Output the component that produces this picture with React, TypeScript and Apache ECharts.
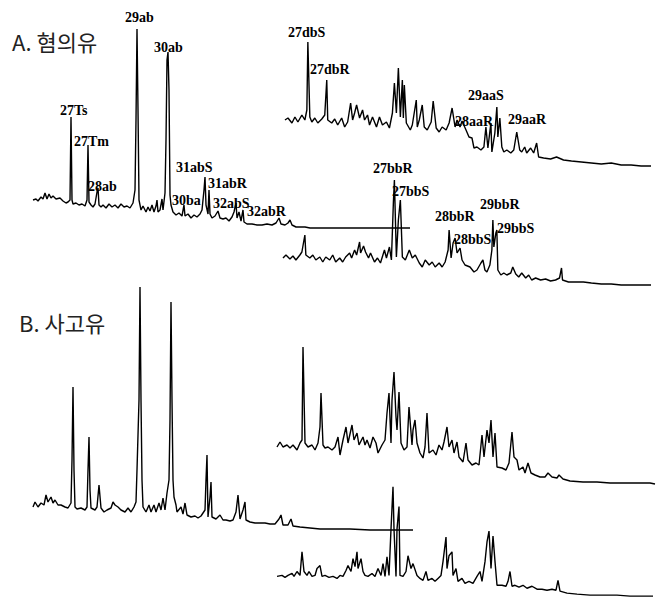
import React, { useEffect, useRef } from "react";
import * as echarts from "echarts";

// Each trace: [scan, abundance]
const mainA: number[][] = [
  [3,30],[6,31],[8,29],[11,33],[13,31],[15,37],[17,31],[19,36],[21,32],[23,34],[26,31],[30,32],[33,29],[36,27],[38,28],[40,30],[41,113],[42,30],[43,26],[46,27],[49,25],[52,26],[55,24],[57,30],[58,85],[59,28],[61,25],[63,23],[65,26],[67,38],[68,42],[69,25],[71,23],[73,25],[76,22],[79,26],[82,23],[85,25],[88,22],[91,26],[94,23],[97,24],[100,22],[103,27],[105,40],[106,110],[107,201],[108,120],[109,30],[111,20],[113,24],[116,18],[118,23],[120,19],[122,25],[124,18],[126,24],[127,30],[128,18],[130,20],[132,31],[133,20],[135,37],[136,90],[137,170],[138,178],[139,140],[140,35],[141,25],[143,18],[146,15],[149,17],[152,14],[154,25],[155,14],[158,16],[161,12],[164,15],[167,13],[170,16],[172,20],[174,40],[175,53],[176,25],[178,16],[179,40],[180,16],[182,12],[185,14],[188,19],[190,12],[193,11],[196,12],[199,9],[202,13],[204,18],[206,27],[207,12],[209,18],[211,9],[213,20],[214,8],[217,6],[222,6],[227,5],[232,5],[237,6],[242,5],[246,7],[249,12],[251,6],[255,5],[258,7],[260,10],[262,5],[266,3],[270,3],[275,3],[280,2],[300,2],[320,2],[340,2],[360,2],[380,2]
];

const insetA217: number[][] = [
  [5,50],[8,52],[12,47],[15,53],[18,48],[22,55],[25,50],[27,60],[28,128],[30,53],[32,48],[35,52],[38,47],[42,51],[45,55],[47,90],[48,50],[52,47],[55,51],[58,45],[62,52],[65,43],[68,48],[71,67],[73,50],[75,57],[77,65],[80,52],[83,60],[85,50],[88,55],[90,45],[93,53],[97,43],[100,53],[103,45],[107,48],[110,42],[113,57],[115,87],[117,57],[119,102],[121,53],[123,90],[124,52],[125,85],[127,47],[131,40],[133,45],[137,70],[138,43],[140,50],[143,65],[145,43],[148,40],[152,48],[154,69],[157,42],[160,38],[163,43],[167,40],[170,47],[173,62],[176,43],[178,50],[181,43],[183,49],[187,40],[190,33],[193,32],[195,22],[198,23],[202,20],[205,23],[207,43],[209,22],[212,47],[213,18],[216,37],[218,63],[219,33],[221,52],[223,23],[225,18],[228,20],[232,17],[235,20],[238,38],[241,20],[243,18],[246,23],[248,17],[252,22],[255,17],[258,27],[260,13],[265,12],[272,11],[278,13],[285,10],[293,9],[303,8],[313,7],[323,6],[333,7],[343,5],[353,5],[363,4],[373,4]
];

const insetA218: number[][] = [
  [3,32],[6,35],[10,31],[13,34],[16,30],[20,35],[22,38],[25,55],[26,35],[30,32],[33,35],[36,30],[40,33],[43,28],[46,33],[50,30],[53,35],[56,28],[60,32],[63,28],[66,33],[70,37],[72,32],[75,40],[77,35],[80,48],[81,37],[84,44],[86,38],[89,32],[91,37],[95,28],[98,32],[101,27],[105,40],[107,32],[110,43],[112,30],[114,88],[115,110],[117,33],[119,70],[121,90],[123,33],[126,30],[130,40],[133,32],[136,35],[140,27],[143,23],[146,30],[150,25],[153,28],[156,23],[160,27],[163,23],[166,28],[169,40],[170,60],[172,32],[174,47],[176,52],[178,37],[181,42],[183,30],[186,25],[191,23],[195,18],[198,20],[202,27],[204,30],[206,20],[208,18],[211,25],[213,40],[214,70],[215,43],[217,57],[218,60],[219,20],[222,15],[225,17],[228,15],[232,17],[234,23],[237,16],[240,13],[243,17],[247,12],[250,15],[253,10],[257,12],[262,10],[267,11],[272,9],[277,10],[281,12],[283,22],[284,10],[290,8],[297,8],[305,8],[313,7],[323,6],[333,6],[343,5],[353,5],[363,5],[373,5]
];

const mainB: number[][] = [
  [3,28],[5,33],[8,28],[11,32],[14,30],[16,40],[18,33],[21,38],[23,32],[25,35],[28,30],[31,30],[35,28],[38,27],[41,32],[42,75],[43,148],[44,65],[45,28],[47,26],[51,27],[55,25],[57,28],[58,65],[59,98],[60,45],[61,27],[65,25],[67,28],[69,50],[71,27],[74,23],[77,25],[81,27],[83,33],[85,30],[88,28],[91,25],[95,23],[98,27],[101,23],[104,28],[106,33],[107,65],[109,135],[110,248],[111,135],[112,55],[113,28],[116,23],[119,30],[121,23],[124,30],[126,23],[129,32],[131,25],[133,37],[135,25],[137,42],[139,55],[140,115],[141,233],[142,135],[143,55],[144,38],[146,30],[147,23],[151,28],[153,21],[155,32],[157,20],[161,18],[165,19],[168,17],[171,19],[175,25],[176,55],[177,80],[178,18],[180,38],[181,53],[182,18],[186,16],[190,20],[193,15],[196,15],[200,14],[203,15],[206,23],[208,40],[210,16],[213,25],[215,33],[216,15],[220,13],[225,12],[230,12],[235,12],[240,11],[245,11],[249,16],[251,20],[253,10],[258,10],[261,16],[263,9],[270,8],[280,7],[290,6],[300,6],[320,6],[340,5],[360,5],[383,5]
];

const insetB217: number[][] = [
  [7,43],[10,48],[13,43],[17,45],[20,42],[23,45],[27,40],[30,47],[32,50],[33,143],[35,47],[38,43],[42,45],[45,40],[48,47],[50,63],[51,97],[53,45],[55,42],[58,43],[62,40],[65,43],[68,53],[70,35],[73,50],[76,63],[78,47],[82,65],[84,50],[87,57],[89,45],[93,53],[95,45],[97,50],[100,42],[103,53],[106,47],[108,37],[112,45],[115,50],[117,77],[119,97],[121,47],[122,90],[124,118],[126,73],[127,60],[129,98],[131,47],[134,40],[137,43],[139,83],[142,45],[143,60],[145,70],[147,47],[150,37],[153,32],[155,43],[157,77],[159,37],[163,40],[166,35],[169,45],[172,40],[174,48],[177,63],[179,43],[182,50],[184,37],[187,48],[189,33],[193,28],[196,47],[198,30],[202,25],[206,27],[209,25],[212,55],[214,33],[217,60],[219,47],[221,70],[223,33],[225,57],[227,23],[232,22],[236,20],[239,27],[242,58],[244,33],[247,30],[249,20],[253,23],[255,17],[258,27],[261,17],[265,15],[270,13],[275,13],[278,17],[282,13],[287,12],[289,15],[293,11],[300,9],[313,8],[327,8],[340,7],[353,7],[367,7],[380,7],[385,6]
];

const insetB218: number[][] = [
  [7,27],[12,28],[15,26],[18,28],[22,30],[24,27],[27,32],[30,28],[32,52],[34,32],[37,28],[39,32],[42,27],[45,28],[47,35],[50,38],[52,27],[55,28],[59,26],[63,27],[67,25],[70,28],[73,27],[76,33],[78,38],[81,32],[83,45],[85,37],[87,52],[88,35],[91,45],[93,32],[95,28],[98,27],[102,30],[105,27],[108,35],[111,28],[113,40],[115,27],[117,47],[119,28],[121,75],[123,118],[124,75],[126,27],[127,75],[129,98],[130,28],[133,27],[136,32],[138,48],[141,35],[143,40],[147,28],[150,25],[153,23],[156,32],[158,23],[162,25],[165,22],[168,25],[171,28],[173,42],[176,67],[177,35],[179,48],[182,52],[183,28],[186,35],[188,22],[192,25],[195,20],[199,22],[203,20],[207,27],[210,32],[212,22],[215,42],[217,62],[219,73],[221,35],[223,68],[225,42],[227,18],[232,18],[236,17],[238,22],[240,32],[242,17],[245,18],[249,16],[253,18],[257,15],[262,17],[267,14],[272,14],[277,13],[282,14],[286,13],[288,23],[290,12],[297,10],[307,9],[320,8],[333,8],[347,8],[360,7],[373,7],[383,7]
];

const traces = [mainA, insetA217, insetA218, mainB, insetB217, insetB218];

const panelTitles = ["A. 혐의유", "B. 사고유"];

const peakLabels = [
  "29ab", "30ab", "27Ts", "27Tm", "28ab", "31abS", "31abR", "30ba", "32abS", "32abR",
  "27dbS", "27dbR", "29aaS", "28aaR", "29aaR",
  "27bbR", "27bbS", "28bbR", "28bbS", "29bbR", "29bbS",
];

// layout (pixels)
const gridBoxes = [
  { left: 30, top: 20, width: 380, height: 210 },
  { left: 280, top: 30, width: 380, height: 140 },
  { left: 280, top: 160, width: 380, height: 130 },
  { left: 30, top: 285, width: 383, height: 250 },
  { left: 270, top: 330, width: 388, height: 160 },
  { left: 270, top: 475, width: 388, height: 130 },
];
const labelPos = [
  [125, 17], [154, 47], [60, 110], [74, 141], [88, 186], [176, 167], [208, 183], [172, 200], [213, 203], [247, 211],
  [288, 32], [310, 69], [468, 95], [455, 121], [508, 119],
  [373, 168], [392, 191], [435, 216], [454, 239], [480, 204], [497, 228],
];
const titlePos = [[12, 41], [19, 322]];

export default function App() {
  const ref = useRef<HTMLDivElement>(null);
  useEffect(() => {
    if (!ref.current) return;
    const chart = echarts.init(ref.current, undefined, { renderer: "svg" });
    const grid = gridBoxes.map((g) => ({ ...g, containLabel: false }));
    const xAxis = gridBoxes.map((g, i) => ({
      type: "value", gridIndex: i, min: 0, max: g.width, show: false,
    }));
    const yAxis = gridBoxes.map((g, i) => ({
      type: "value", gridIndex: i, min: 0, max: g.height, show: false,
    }));
    const series = traces.map((d, i) => ({
      type: "line", xAxisIndex: i, yAxisIndex: i, data: d, showSymbol: false,
      symbol: "none", lineStyle: { color: "#000", width: 1.4 }, silent: true,
    }));
    const graphic: any[] = [];
    panelTitles.forEach((t, i) => {
      graphic.push({
        type: "text", x: titlePos[i][0], y: titlePos[i][1],
        style: { text: t, fontSize: 22, fontFamily: "Noto Sans CJK KR, sans-serif", fill: "#222", verticalAlign: "middle", align: "left" },
      });
    });
    peakLabels.forEach((t, i) => {
      graphic.push({
        type: "text", x: labelPos[i][0], y: labelPos[i][1],
        style: { text: t, fontSize: 14, fontWeight: "bold", fontFamily: "Liberation Serif, serif", fill: "#000", verticalAlign: "middle", align: "left" },
      });
    });
    chart.setOption({
      animation: false,
      backgroundColor: "#fff",
      grid, xAxis, yAxis, series, graphic,
    });
    return () => chart.dispose();
  }, []);
  return (
    <div ref={ref} style={{ position: "fixed", left: 0, top: 0, width: 658, height: 603, background: "#fff" }} />
  );
}
